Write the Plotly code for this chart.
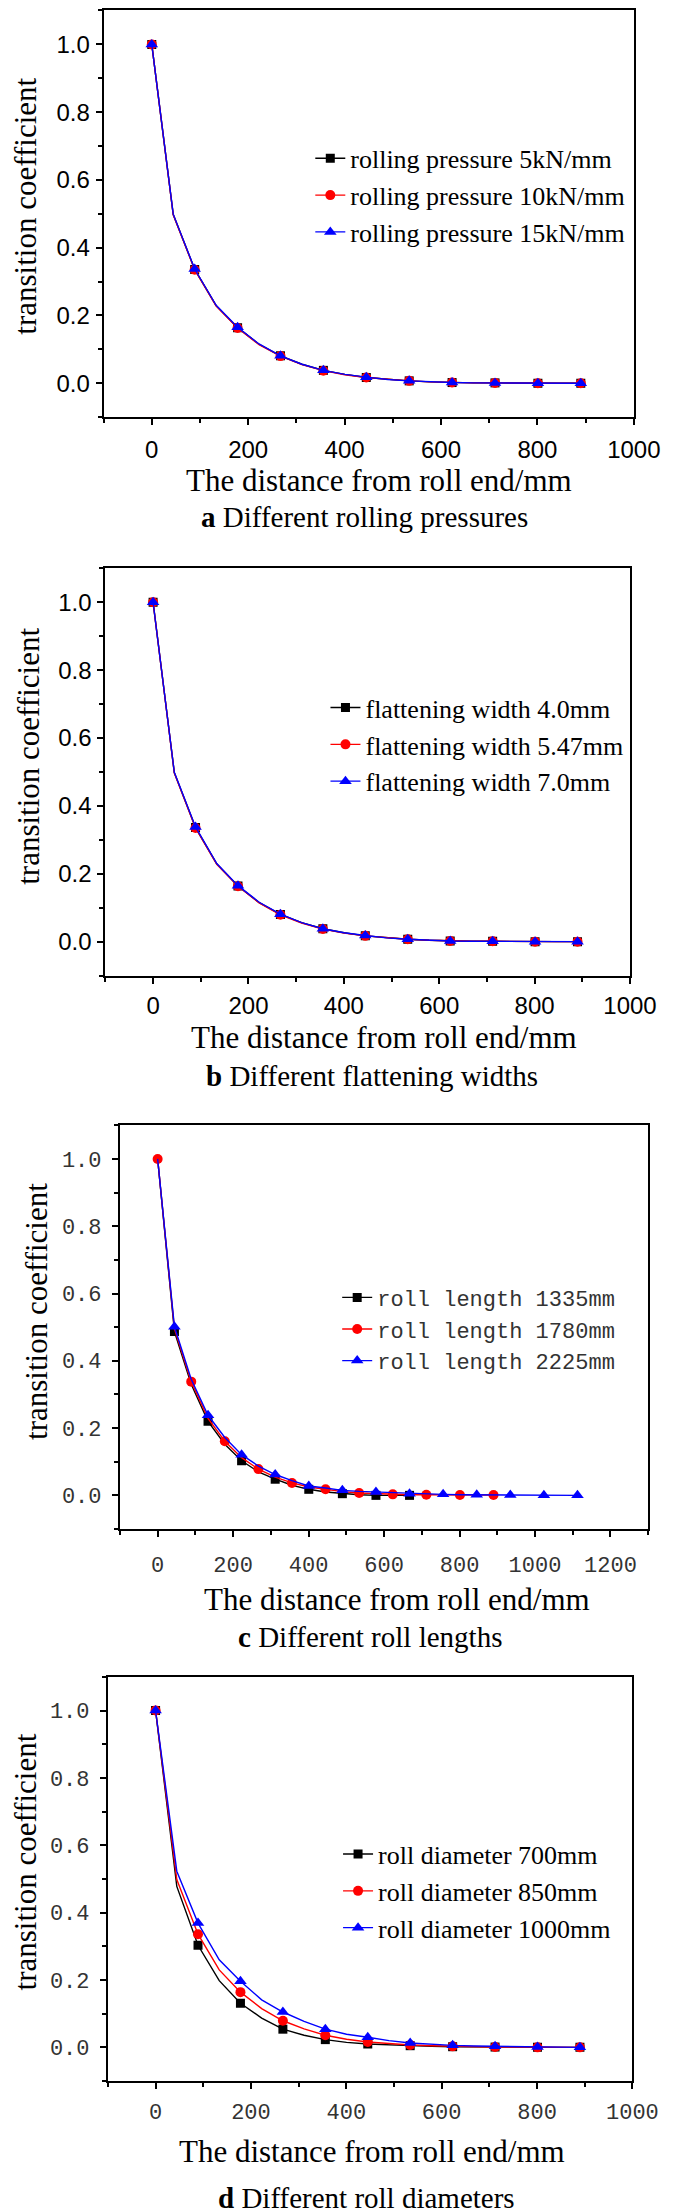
import plotly.graph_objects as go

W, H = 685, 2210

# ---------------- data ----------------
dist_890 = [0, 44.5, 89, 133.5, 178, 222.5, 267, 311.5, 356, 400.5, 445,
            489.5, 534, 578.5, 623, 667.5, 712, 756.5, 801, 845.5, 890]
dist_667 = [0, 44.5, 89, 133.5, 178, 222.5, 267, 311.5, 356, 400.5, 445,
            489.5, 534, 578.5, 623, 667.5]
dist_1112 = [0, 44.5, 89, 133.5, 178, 222.5, 267, 311.5, 356, 400.5, 445,
             489.5, 534, 578.5, 623, 667.5, 712, 756.5, 801, 845.5, 890,
             934.5, 979, 1023.5, 1068, 1112.5]

# a: rolling pressures
a_5 = [1.0, 0.498, 0.336, 0.229, 0.164, 0.115, 0.081, 0.056, 0.038, 0.026, 0.017,
       0.011, 0.007, 0.004, 0.002, 0.001, 0.001, 0.0, 0.0, 0.0, 0.0]
a_10 = [1.0, 0.497, 0.335, 0.228, 0.163, 0.114, 0.080, 0.055, 0.037, 0.025, 0.017,
        0.011, 0.007, 0.004, 0.002, 0.001, 0.001, 0.0, 0.0, 0.0, 0.0]
a_15 = [1.0, 0.499, 0.337, 0.230, 0.165, 0.116, 0.081, 0.056, 0.038, 0.026, 0.018,
        0.011, 0.007, 0.004, 0.002, 0.001, 0.001, 0.0, 0.0, 0.0, 0.0]
a_names = ["rolling pressure 5kN/mm", "rolling pressure 10kN/mm", "rolling pressure 15kN/mm"]

# b: flattening widths
b_40 = [1.0, 0.498, 0.336, 0.229, 0.164, 0.115, 0.080, 0.056, 0.038, 0.026, 0.017,
        0.011, 0.007, 0.004, 0.002, 0.001, 0.001, 0.0, 0.0, 0.0, 0.0]
b_547 = [1.0, 0.497, 0.335, 0.228, 0.163, 0.114, 0.079, 0.055, 0.037, 0.025, 0.017,
         0.011, 0.007, 0.004, 0.002, 0.001, 0.001, 0.0, 0.0, 0.0, 0.0]
b_70 = [1.0, 0.499, 0.338, 0.230, 0.165, 0.116, 0.081, 0.056, 0.038, 0.026, 0.018,
        0.011, 0.007, 0.004, 0.002, 0.001, 0.001, 0.0, 0.0, 0.0, 0.0]
b_names = ["flattening width 4.0mm", "flattening width 5.47mm", "flattening width 7.0mm"]

# c: roll lengths
c_1335 = [1.0, 0.487, 0.330, 0.220, 0.152, 0.103, 0.070, 0.048, 0.030, 0.018, 0.010,
          0.005, 0.002, 0.0, 0.0, 0.0]
c_1780 = [1.0, 0.495, 0.338, 0.229, 0.161, 0.112, 0.078, 0.054, 0.037, 0.025, 0.018,
          0.011, 0.007, 0.005, 0.003, 0.002, 0.002, 0.0015, 0.001, 0.001, 0.001]
c_2225 = [1.0, 0.501, 0.345, 0.238, 0.172, 0.121, 0.087, 0.062, 0.044, 0.028, 0.022,
          0.015, 0.012, 0.010, 0.007, 0.005, 0.004, 0.003, 0.002, 0.002, 0.0015,
          0.001, 0.001, 0.0, 0.0, 0.0]
c_names = ["roll length 1335mm", "roll length 1780mm", "roll length 2225mm"]

# d: roll diameters
d_700 = [1.0, 0.478, 0.303, 0.198, 0.131, 0.087, 0.054, 0.036, 0.023, 0.015, 0.010,
         0.007, 0.005, 0.003, 0.002, 0.001, 0.001, 0.0, 0.0, 0.0, 0.0]
d_850 = [1.0, 0.498, 0.336, 0.230, 0.164, 0.115, 0.079, 0.055, 0.036, 0.024, 0.016,
         0.011, 0.007, 0.005, 0.003, 0.002, 0.001, 0.001, 0.0, 0.0, 0.0]
d_1000 = [1.0, 0.523, 0.369, 0.260, 0.196, 0.141, 0.105, 0.077, 0.054, 0.039, 0.030,
          0.020, 0.013, 0.009, 0.006, 0.004, 0.003, 0.002, 0.001, 0.001, 0.0]
d_names = ["roll diameter 700mm", "roll diameter 850mm", "roll diameter 1000mm"]

x_title = "The distance from roll end/mm"
y_title = "transition coefficient"
captions = ["<b>a</b> Different rolling pressures", "<b>b</b> Different flattening widths",
            "<b>c</b> Different roll lengths", "<b>d</b> Different roll diameters"]

# ---------------- styles ----------------
COLORS = ["#000000", "#ff0000", "#0000ff"]
SYMBOLS = ["square", "circle", "triangle-up"]
MSIZES = [9, 10, 11]
SERIF = "Liberation Serif, Times New Roman, serif"
SANS = "Liberation Sans, Arial, sans-serif"
MONO = "Liberation Mono, Courier New, monospace"

fig = go.Figure()


def add_series(k, xs, ys, name, color, symbol, msize, parity, legend):
    xa, ya = ("x", "y") if k == 1 else (f"x{k}", f"y{k}")
    fig.add_trace(go.Scatter(x=xs, y=ys, mode="lines", line=dict(color=color, width=1.4),
                             showlegend=False, xaxis=xa, yaxis=ya, hoverinfo="skip"))
    mx = [v for i, v in enumerate(xs) if i % 2 == parity]
    my = [v for i, v in enumerate(ys) if i % 2 == parity]
    fig.add_trace(go.Scatter(x=mx, y=my, mode="markers",
                             marker=dict(color=color, symbol=symbol, size=msize, line=dict(width=0)),
                             showlegend=False, xaxis=xa, yaxis=ya))
    # legend entry (line + marker sample)
    fig.add_trace(go.Scatter(x=[None], y=[None], mode="lines+markers", name=name,
                             line=dict(color=color, width=1.4),
                             marker=dict(color=color, symbol=symbol, size=msize, line=dict(width=0)),
                             xaxis=xa, yaxis=ya, legend=legend))


panels = [
    (1, [dist_890, dist_890, dist_890], [a_5, a_10, a_15], a_names, [0, 0, 0], "legend"),
    (2, [dist_890, dist_890, dist_890], [b_40, b_547, b_70], b_names, [0, 0, 0], "legend2"),
    (3, [dist_667, dist_890, dist_1112], [c_1335, c_1780, c_2225], c_names, [1, 0, 1], "legend3"),
    (4, [dist_890, dist_890, dist_890], [d_700, d_850, d_1000], d_names, [0, 0, 0], "legend4"),
]
for k, xsl, ysl, names, par, lg in panels:
    for j in range(3):
        add_series(k, xsl[j], ysl[j], names[j], COLORS[j], SYMBOLS[j], MSIZES[j], par[j], lg)

# ---------------- layout (pixel boxes) ----------------
boxes = [(99.5, 651.5, 1.5, 408.3),
         (101.4, 647.5, 559.6, 967.0),
         (116.5, 666.5, 1116.8, 1520.7),
         (104.0, 650.0, 1668.6, 2073.0)]
x_ranges = [[-100, 1000], [-100, 1000], [-100, 1300], [-100, 1000]]
tick_fonts = [dict(family=SANS, size=24, color="#000"), dict(family=SANS, size=24, color="#000"),
              dict(family=MONO, size=22, color="#333"), dict(family=MONO, size=22, color="#333")]
x_standoff = [4, 2, 9, 4]
y_standoff = [1, 1, 6, 6]

axis_common = dict(showline=True, linewidth=2, linecolor="#000", mirror=True,
                   ticks="outside", ticklen=6, tickwidth=1.5, tickcolor="#000",
                   showgrid=False, zeroline=False)

lay = {}
for i, (l, r, t, b) in enumerate(boxes):
    k = i + 1
    xn = "xaxis" if k == 1 else f"xaxis{k}"
    yn = "yaxis" if k == 1 else f"yaxis{k}"
    lay[xn] = dict(axis_common, domain=[l / W, r / W], anchor="y" if k == 1 else f"y{k}",
                   range=x_ranges[i], tick0=0, dtick=200, tickfont=tick_fonts[i],
                   ticklabelstandoff=x_standoff[i],
                   minor=dict(ticks="outside", ticklen=4, tickwidth=1.5, tickcolor="#000",
                              dtick=100, tick0=0, showgrid=False))
    lay[yn] = dict(axis_common, domain=[1 - b / H, 1 - t / H], anchor="x" if k == 1 else f"x{k}",
                   range=[-0.1, 1.1], tick0=0, dtick=0.2, tickformat=".1f", tickfont=tick_fonts[i],
                   ticklabelstandoff=y_standoff[i],
                   minor=dict(ticks="outside", ticklen=4, tickwidth=1.5, tickcolor="#000",
                              dtick=0.1, tick0=0, showgrid=False))

# legends: (text start x, middle item y, font)
leg_specs = [("legend", 354.7, 186.5, dict(family=SERIF, size=26, color="#000")),
             ("legend2", 370.5, 736.0, dict(family=SERIF, size=26, color="#000")),
             ("legend3", 382.7, 1320.7, dict(family=MONO, size=22, color="#333")),
             ("legend4", 383.6, 1883.0, dict(family=SERIF, size=26, color="#000"))]
for name, tx, my, fnt in leg_specs:
    lay[name] = dict(x=(tx - 40) / W, xanchor="left", y=1 - my / H, yanchor="middle",
                     bgcolor="rgba(0,0,0,0)", borderwidth=0, font=fnt, traceorder="normal",
                     itemclick=False)

annotations = []
title_pos = [(386.6, 471.5), (391.6, 1029.0), (405.0, 1591.0), (379.0, 2143.0)]
cap_pos = [(370.7, 508.0), (378.6, 1067.0), (377.0, 1628.6), (373.5, 2190.0)]
ytitle_pos = [(18.5, 197.0), (22.0, 748.0), (29.0, 1302.7), (18.0, 1854.0)]
for i in range(4):
    tx, ty = title_pos[i]
    annotations.append(dict(text=x_title, x=tx / W, y=1 - ty / H, xref="paper", yref="paper",
                            xanchor="center", yanchor="middle", showarrow=False,
                            font=dict(family=SERIF, size=31, color="#000")))
    cx, cy = cap_pos[i]
    annotations.append(dict(text=captions[i], x=cx / W, y=1 - cy / H, xref="paper", yref="paper",
                            xanchor="center", yanchor="middle", showarrow=False,
                            font=dict(family=SERIF, size=29, color="#000")))
    yx, yy = ytitle_pos[i]
    annotations.append(dict(text=y_title, x=yx / W, y=1 - yy / H, xref="paper", yref="paper",
                            xanchor="center", yanchor="middle", showarrow=False, textangle=-90,
                            font=dict(family=SERIF, size=31, color="#000")))

fig.update_layout(width=W, height=H, margin=dict(l=0, r=0, t=0, b=0),
                  paper_bgcolor="#ffffff", plot_bgcolor="#ffffff",
                  annotations=annotations, **lay)

fig.write_html("out.html")
